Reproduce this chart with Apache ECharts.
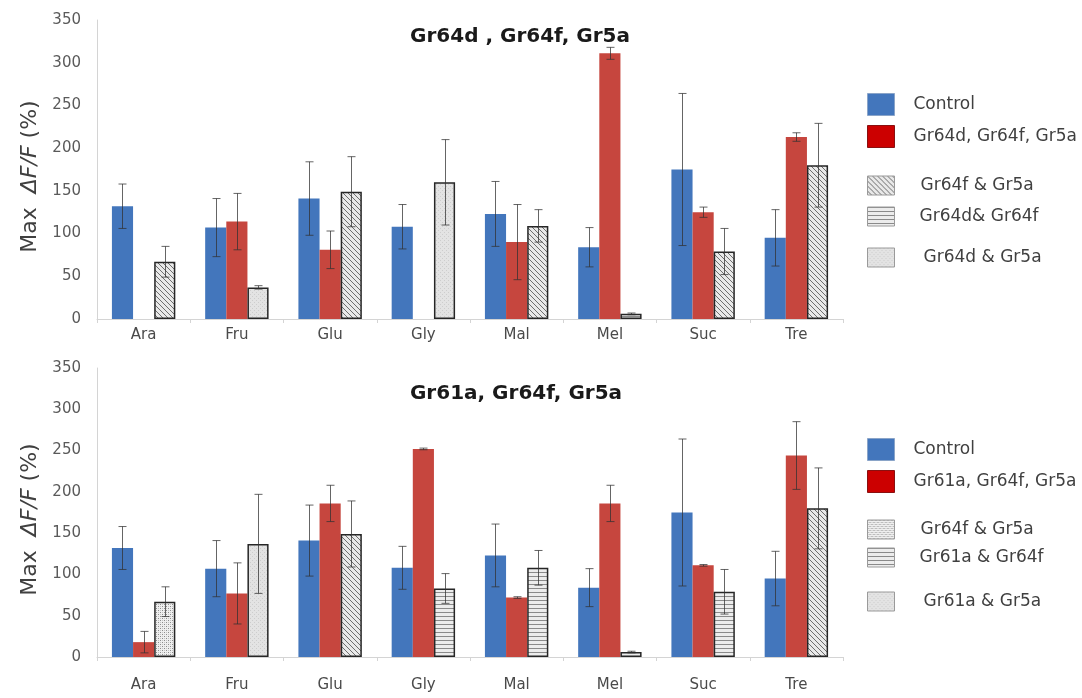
<!DOCTYPE html>
<html>
<head>
<meta charset="utf-8">
<script src="https://cdn.jsdelivr.net/npm/echarts@6/dist/echarts.min.js"></script>
<style>
  html, body { margin: 0; padding: 0; background: #fff; }
  #chart { width: 1082px; height: 698px; }
</style>
</head>
<body>
<div id="chart"></div>
<script>
// ---- data ----
const categories = ['Ara', 'Fru', 'Glu', 'Gly', 'Mal', 'Mel', 'Suc', 'Tre'];
const yMin = 0, yMax = 350, yStep = 50;

// Control flies (shared by both panels)
const controlValues = [132, 107, 141, 108, 123, 84, 175, 95];
const controlErrors = [26, 34, 43, 26, 38, 23, 89, 33];

// Upper panel: Gr64d, Gr64f, Gr5a
const upperTripleValues = [null, 114, 81, null, 90, 311, 125, 213];
const upperTripleErrors = [null, 33, 22, null, 44, 7, 6, 5];
const upper64f5aValues  = [67, null, 149, null, 109, null, 79, 180];
const upper64f5aErrors  = [18, null, 41, null, 19, null, 27, 49];
const upper64d64fValues = [null, null, null, null, null, 6, null, null];
const upper64d64fErrors = [null, null, null, null, null, 1, null, null];
const upper64d5aValues  = [null, 37, null, 160, null, null, null, null];
const upper64d5aErrors  = [null, 2, null, 50, null, null, null, null];

// Lower panel: Gr61a, Gr64f, Gr5a
const lowerTripleValues = [18, 77, 186, 252, 72, 186, 111, 244];
const lowerTripleErrors = [13, 37, 22, 1, 1, 22, 1, 41];
const lower64f5aValues  = [67, null, null, null, null, null, null, null];
const lower64f5aErrors  = [18, null, null, null, null, null, null, null];
const lowerHatchValues  = [null, null, 149, null, null, null, null, 180];
const lowerHatchErrors  = [null, null, 40, null, null, null, null, 49];
const lower61a64fValues = [null, null, null, 83, 108, 6, 79, null];
const lower61a64fErrors = [null, null, null, 18, 21, 1, 27, null];
const lower61a5aValues  = [null, 137, null, null, null, null, null, null];
const lower61a5aErrors  = [null, 60, null, null, null, null, null, null];

// ---- fill patterns ----
function tile(w, h, draw) {
  const c = document.createElement('canvas');
  c.width = w; c.height = h;
  draw(c.getContext('2d'), w, h);
  return { image: c, repeat: 'repeat' };
}
const diagFill = tile(5, 5, (g, w, h) => {
  g.fillStyle = '#e9e9e9'; g.fillRect(0, 0, w, h);
  g.strokeStyle = '#6e6e6e'; g.lineWidth = 1;
  g.beginPath();
  g.moveTo(-1, -1); g.lineTo(w + 1, h + 1);
  g.moveTo(-1, h - 1); g.lineTo(1, h + 1);
  g.moveTo(w - 1, -1); g.lineTo(w + 1, 1);
  g.stroke();
});
const horizFill = tile(4, 4, (g, w, h) => {
  g.fillStyle = '#ececec'; g.fillRect(0, 0, w, h);
  g.fillStyle = '#8a8a8a'; g.fillRect(0, 0, w, 1);
});
const lightDotFill = tile(4, 4, (g, w, h) => {
  g.fillStyle = '#e3e3e3'; g.fillRect(0, 0, w, h);
  g.fillStyle = '#cdcdcd'; g.fillRect(0, 0, 1, 1); g.fillRect(2, 2, 1, 1);
});
const dotFill = tile(4, 4, (g, w, h) => {
  g.fillStyle = '#efefef'; g.fillRect(0, 0, w, h);
  g.fillStyle = '#8c8c8c';
  g.fillRect(0, 0, 1, 1); g.fillRect(2, 2, 1, 1);
  g.fillStyle = '#c4c4c4';
  g.fillRect(2, 0, 1, 1); g.fillRect(0, 2, 1, 1);
});

const BLUE = '#4376bc';
const RED = '#c6463e';
const GAP = 0.32;
const FONT = 'DejaVu Sans';

// ---- builders ----
function solidBar(name, values, color, gi) {
  return {
    name, type: 'bar', xAxisIndex: gi, yAxisIndex: gi,
    barGap: 0, barCategoryGap: (GAP * 100) + '%',
    itemStyle: { color }, data: values, silent: true
  };
}
function patternBar(name, values, fill, gi, stack) {
  return {
    name, type: 'bar', xAxisIndex: gi, yAxisIndex: gi, stack,
    barGap: 0, barCategoryGap: (GAP * 100) + '%',
    itemStyle: { color: fill, borderColor: '#262626', borderWidth: 1.5 },
    data: values, silent: true
  };
}
function errorItems(groups) {
  const out = [];
  groups.forEach(([values, errors, slot]) => {
    values.forEach((v, i) => {
      if (v != null && errors[i] != null) out.push([i, v, errors[i], slot]);
    });
  });
  return out;
}
function errorSeries(gi, items) {
  return {
    type: 'custom', xAxisIndex: gi, yAxisIndex: gi, z: 10, silent: true,
    encode: { x: 0, y: 1 },
    renderItem(params, api) {
      const i = api.value(0), v = api.value(1), e = api.value(2), s = api.value(3);
      const band = api.size([1, 0])[0];
      const bw = band * (1 - GAP) / 3;
      const cx = Math.round(api.coord([i, v])[0] + (s - 1) * bw) + 0.5;
      const yTop = api.coord([i, v + e])[1];
      const yBot = api.coord([i, Math.max(v - e, 0)])[1];
      const cap = 4;
      const st = { stroke: 'rgba(50,50,50,0.75)', lineWidth: 1 };
      return {
        type: 'group',
        children: [
          { type: 'line', shape: { x1: cx, y1: yTop, x2: cx, y2: yBot }, style: st },
          { type: 'line', shape: { x1: cx - cap, y1: yTop, x2: cx + cap, y2: yTop }, style: st },
          { type: 'line', shape: { x1: cx - cap, y1: yBot, x2: cx + cap, y2: yBot }, style: st }
        ]
      };
    },
    data: items
  };
}

function xAxisFor(gi, margin) {
  return {
    type: 'category', gridIndex: gi, data: categories,
    axisLine: { lineStyle: { color: '#d4d4d4', width: 1 } },
    axisTick: { show: true, length: 4, lineStyle: { color: '#d4d4d4' } },
    axisLabel: { color: '#4a4a4a', fontSize: 15, fontFamily: FONT, margin }
  };
}
function yAxisFor(gi) {
  return {
    type: 'value', gridIndex: gi, min: yMin, max: yMax, interval: yStep,
    name: '{r|Max  }{i|ΔF/F}{r| (%)}', nameLocation: 'middle', nameGap: 56,
    nameTextStyle: {
      padding: [0, 14, 0, 0],
      rich: {
        r: { fontSize: 22, color: '#404040', fontFamily: FONT },
        i: { fontSize: 22, color: '#404040', fontFamily: FONT, fontStyle: 'italic' }
      }
    },
    axisLine: { show: true, lineStyle: { color: '#d4d4d4', width: 1 } },
    axisTick: { show: false },
    splitLine: { show: false },
    axisLabel: { color: '#5a5a5a', fontSize: 15, fontFamily: FONT, margin: 16 }
  };
}

// ---- legends ----
const legendRows = [
  { name: 'Control', y: 104, style: { color: BLUE, borderColor: '#8aa4c8', borderWidth: 1 }, pad: 14, h: 22 },
  { name: 'Gr64d, Gr64f, Gr5a', y: 136, style: { color: '#cc0000', borderColor: '#8a1010', borderWidth: 1 }, pad: 14, h: 22 },
  { name: 'Gr64f & Gr5a', y: 185, style: { color: diagFill, borderColor: '#9a9a9a', borderWidth: 1 }, pad: 21, h: 19 },
  { name: 'Gr64d& Gr64f', y: 216, style: { color: horizFill, borderColor: '#9a9a9a', borderWidth: 1 }, pad: 20, h: 19 },
  { name: 'Gr64d & Gr5a', y: 257, style: { color: lightDotFill, borderColor: '#9a9a9a', borderWidth: 1 }, pad: 24, h: 19 },
  { name: 'Control', y: 449, style: { color: BLUE, borderColor: '#8aa4c8', borderWidth: 1 }, pad: 14, h: 22 },
  { name: 'Gr61a, Gr64f, Gr5a', y: 481, style: { color: '#cc0000', borderColor: '#8a1010', borderWidth: 1 }, pad: 14, h: 22 },
  { name: 'Gr64f & Gr5a', y: 529, style: { color: dotFill, borderColor: '#9a9a9a', borderWidth: 1 }, pad: 21, h: 19 },
  { name: 'Gr61a & Gr64f', y: 557, style: { color: horizFill, borderColor: '#9a9a9a', borderWidth: 1 }, pad: 20, h: 19 },
  { name: 'Gr61a & Gr5a', y: 601, style: { color: lightDotFill, borderColor: '#9a9a9a', borderWidth: 1 }, pad: 24, h: 19 }
];
const legends = legendRows.map(r => ({
  left: 867, top: r.y - r.h / 2, orient: 'vertical', selectedMode: false,
  itemWidth: 27, itemHeight: r.h, padding: 0,
  data: [{ name: r.name, icon: 'rect', itemStyle: r.style }],
  textStyle: { fontSize: 17, color: '#404040', fontFamily: FONT, padding: [0, 0, 0, r.pad] }
}));

const series = [
  // upper panel
  solidBar('Control', controlValues, BLUE, 0),
  solidBar('Gr64d, Gr64f, Gr5a', upperTripleValues, RED, 0),
  patternBar('Gr64f & Gr5a', upper64f5aValues, diagFill, 0, 'upperThird'),
  patternBar('Gr64d& Gr64f', upper64d64fValues, horizFill, 0, 'upperThird'),
  patternBar('Gr64d & Gr5a', upper64d5aValues, lightDotFill, 0, 'upperThird'),
  errorSeries(0, errorItems([
    [controlValues, controlErrors, 0],
    [upperTripleValues, upperTripleErrors, 1],
    [upper64f5aValues, upper64f5aErrors, 2],
    [upper64d64fValues, upper64d64fErrors, 2],
    [upper64d5aValues, upper64d5aErrors, 2]
  ])),
  // lower panel
  solidBar('Control', controlValues, BLUE, 1),
  solidBar('Gr61a, Gr64f, Gr5a', lowerTripleValues, RED, 1),
  patternBar('Gr64f & Gr5a', lower64f5aValues, dotFill, 1, 'lowerThird'),
  patternBar('hatched', lowerHatchValues, diagFill, 1, 'lowerThird'),
  patternBar('Gr61a & Gr64f', lower61a64fValues, horizFill, 1, 'lowerThird'),
  patternBar('Gr61a & Gr5a', lower61a5aValues, lightDotFill, 1, 'lowerThird'),
  errorSeries(1, errorItems([
    [controlValues, controlErrors, 0],
    [lowerTripleValues, lowerTripleErrors, 1],
    [lower64f5aValues, lower64f5aErrors, 2],
    [lowerHatchValues, lowerHatchErrors, 2],
    [lower61a64fValues, lower61a64fErrors, 2],
    [lower61a5aValues, lower61a5aErrors, 2]
  ]))
];

const chart = echarts.init(document.getElementById('chart'), null, { renderer: 'canvas' });
chart.setOption({
  backgroundColor: '#ffffff',
  animation: false,
  grid: [
    { left: 97, right: 239, top: 20, height: 299 },
    { left: 97, right: 239, top: 368, height: 289 }
  ],
  xAxis: [xAxisFor(0, 9), xAxisFor(1, 21)],
  yAxis: [yAxisFor(0), yAxisFor(1)],
  legend: legends,
  graphic: [
    { type: 'text', x: 520, y: 37, style: { text: 'Gr64d , Gr64f, Gr5a', align: 'center', verticalAlign: 'middle', font: 'bold 20px "' + FONT + '"', fill: '#1a1a1a' } },
    { type: 'text', x: 516, y: 394, style: { text: 'Gr61a, Gr64f, Gr5a', align: 'center', verticalAlign: 'middle', font: 'bold 20px "' + FONT + '"', fill: '#1a1a1a' } }
  ],
  series
});
</script>
</body>
</html>
